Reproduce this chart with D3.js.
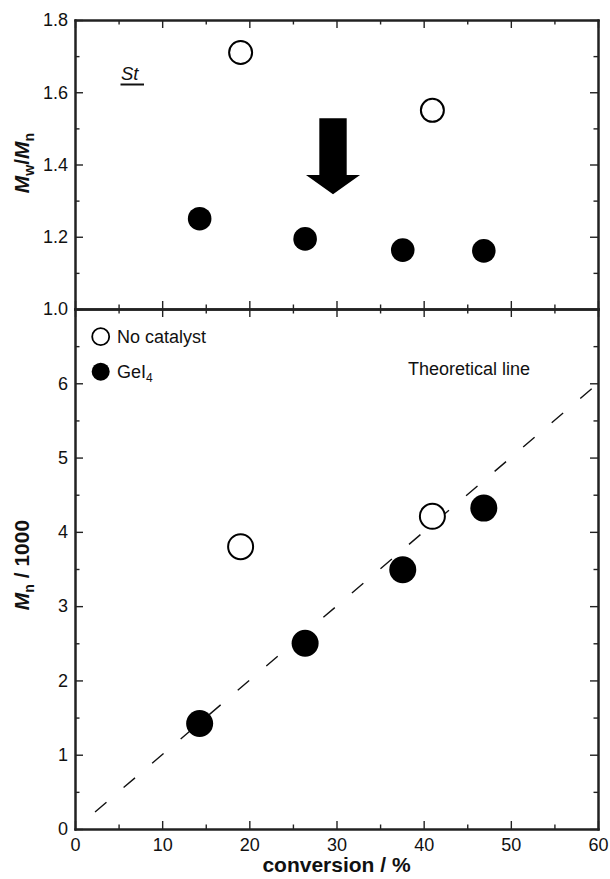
<!DOCTYPE html>
<html><head><meta charset="utf-8">
<script src="https://cdn.jsdelivr.net/npm/d3@7"></script>
<style>
body{margin:0;background:#fff}
svg{display:block}
text{font-family:"Liberation Sans",Arial,Helvetica,sans-serif;fill:#111}
</style>
</head><body>
<svg id="c" width="610" height="879"></svg>
<script>
// ---- data ----
const conversionNoCat = [19.0, 41.0];
const pdiNoCat = [1.71, 1.55];
const mnNoCat = [3.80, 4.21];
const conversionGeI4 = [14.3, 26.4, 37.6, 46.9];
const pdiGeI4 = [1.25, 1.194, 1.163, 1.161];
const mnGeI4 = [1.42, 2.50, 3.49, 4.32];
const theoryConversion = [2.3, 60];
const theoryMn = [0.23, 6.0];
const xTicks = [0, 10, 20, 30, 40, 50, 60];
const xMinor = [5, 15, 25, 35, 45, 55];
const pdiTicks = [1.0, 1.2, 1.4, 1.6, 1.8];
const pdiMinor = [1.1, 1.3, 1.5, 1.7];
const mnTicks = [0, 1, 2, 3, 4, 5, 6];
const mnMinor = [0.5, 1.5, 2.5, 3.5, 4.5, 5.5, 6.5];
const legendLabels = ["No catalyst", "GeI"];
const arrowAnno = {x: 29.6, top: 1.528, neck: 1.371, tip: 1.3175, shaft: 1.57, head: 3.1};

// ---- scales ----
const svg = d3.select('#c');
const x = d3.scaleLinear().domain([0, 60]).range([75, 598]);
const yT = d3.scaleLinear().domain([1.0, 1.8]).range([309, 20]);
const yB = d3.scaleLinear().domain([0, 7]).range([829, 309]);
const MAJ = 8, MIN = 4.5;
const LINE = '#222';

function drawAxis(maker, scale, tr, major, minor, fmt, pad) {
  const gMin = svg.append('g').attr('transform', tr)
    .call(maker(scale).tickValues(minor).tickSizeInner(-MIN).tickSizeOuter(0).tickFormat(''));
  const gMaj = svg.append('g').attr('transform', tr)
    .call(maker(scale).tickValues(major).tickSizeInner(-MAJ).tickSizeOuter(0)
      .tickPadding(pad || 0).tickFormat(fmt || (() => '')));
  [gMin, gMaj].forEach(g => {
    g.selectAll('.domain').attr('stroke', LINE).attr('stroke-width', 2).attr('stroke-linecap', 'square');
    g.selectAll('.tick line').attr('stroke', LINE).attr('stroke-width', 1.4);
    g.selectAll('text').attr('font-size', 18).attr('fill', '#111')
      .attr('font-family', '"Liberation Sans",Arial,sans-serif');
  });
}

// top panel
drawAxis(d3.axisLeft, yT, 'translate(75,0)', pdiTicks, pdiMinor, d3.format('.1f'), 7);
drawAxis(d3.axisRight, yT, 'translate(598,0)', pdiTicks, pdiMinor);
drawAxis(d3.axisTop, x, 'translate(0,20)', xTicks, xMinor);
drawAxis(d3.axisBottom, x, 'translate(0,309)', xTicks, xMinor);
// bottom panel
drawAxis(d3.axisLeft, yB, 'translate(75,0)', mnTicks, mnMinor, d3.format('d'), 7);
drawAxis(d3.axisRight, yB, 'translate(598,0)', mnTicks, mnMinor);
drawAxis(d3.axisTop, x, 'translate(0,309)', xTicks, xMinor);
drawAxis(d3.axisBottom, x, 'translate(0,829)', xTicks, xMinor, d3.format('d'), 9);

// theoretical line
const theo = theoryConversion.map((c, i) => [c, theoryMn[i]]);
svg.append('path')
  .attr('d', d3.line().x(d => x(d[0])).y(d => yB(d[1]))(theo))
  .attr('fill', 'none').attr('stroke', '#111').attr('stroke-width', 1.4)
  .attr('stroke-dasharray', '15,22.5');

// top panel markers
svg.append('g').selectAll('circle').data(conversionNoCat.map((c, i) => [c, pdiNoCat[i]]))
  .join('circle').attr('cx', d => x(d[0])).attr('cy', d => yT(d[1])).attr('r', 11.5)
  .attr('fill', '#fff').attr('stroke', '#000').attr('stroke-width', 2);
svg.append('g').selectAll('circle').data(conversionGeI4.map((c, i) => [c, pdiGeI4[i]]))
  .join('circle').attr('cx', d => x(d[0])).attr('cy', d => yT(d[1])).attr('r', 11.8)
  .attr('fill', '#000');

// bottom panel markers
svg.append('g').selectAll('circle').data(conversionNoCat.map((c, i) => [c, mnNoCat[i]]))
  .join('circle').attr('cx', d => x(d[0])).attr('cy', d => yB(d[1])).attr('r', 12.5)
  .attr('fill', '#fff').attr('stroke', '#000').attr('stroke-width', 2);
svg.append('g').selectAll('circle').data(conversionGeI4.map((c, i) => [c, mnGeI4[i]]))
  .join('circle').attr('cx', d => x(d[0])).attr('cy', d => yB(d[1])).attr('r', 13.5)
  .attr('fill', '#000');

// arrow
const a = arrowAnno;
const arrowPts = [
  [a.x - a.shaft, a.top], [a.x + a.shaft, a.top], [a.x + a.shaft, a.neck], [a.x + a.head, a.neck],
  [a.x, a.tip], [a.x - a.head, a.neck], [a.x - a.shaft, a.neck]
];
svg.append('path')
  .attr('d', d3.line().x(d => x(d[0])).y(d => yT(d[1]))(arrowPts) + 'Z')
  .attr('fill', '#000');

// "St" label
svg.append('text').attr('x', 121).attr('y', 79.5).attr('font-size', 18.5)
  .attr('font-style', 'italic').text('St');
svg.append('line').attr('x1', 120.5).attr('x2', 144).attr('y1', 84.5).attr('y2', 84.5)
  .attr('stroke', '#111').attr('stroke-width', 2);

// legend
svg.append('circle').attr('cx', 100.7).attr('cy', 336.7).attr('r', 8.5)
  .attr('fill', '#fff').attr('stroke', '#000').attr('stroke-width', 1.8);
svg.append('circle').attr('cx', 100.7).attr('cy', 371.7).attr('r', 9)
  .attr('fill', '#000');
svg.append('text').attr('x', 117).attr('y', 342.5).attr('font-size', 18).text(legendLabels[0]);
const gl = svg.append('text').attr('x', 117).attr('y', 377.5).attr('font-size', 18);
gl.append('tspan').text(legendLabels[1]);
gl.append('tspan').attr('font-size', 12).attr('dy', 4).text('4');

svg.append('text').attr('x', 408).attr('y', 375).attr('font-size', 18).text('Theoretical line');

// axis titles
svg.append('text').attr('x', 336.5).attr('y', 872).attr('text-anchor', 'middle')
  .attr('font-size', 21).attr('font-weight', 'bold').text('conversion / %');

const t1 = svg.append('text').attr('transform', 'translate(28.5,163) rotate(-90)')
  .attr('text-anchor', 'middle').attr('font-size', 21).attr('font-weight', 'bold');
t1.append('tspan').attr('font-style', 'italic').text('M');
t1.append('tspan').attr('font-size', 14).attr('dy', 5).text('w');
t1.append('tspan').attr('dy', -5).text('/');
t1.append('tspan').attr('font-style', 'italic').text('M');
t1.append('tspan').attr('font-size', 14).attr('dy', 5).text('n');

const t2 = svg.append('text').attr('transform', 'translate(28.5,565) rotate(-90)')
  .attr('text-anchor', 'middle').attr('font-size', 21).attr('font-weight', 'bold');
t2.append('tspan').attr('font-style', 'italic').text('M');
t2.append('tspan').attr('font-size', 14).attr('dy', 5).text('n');
t2.append('tspan').attr('dy', -5).text(' / 1000');
</script>
</body></html>
